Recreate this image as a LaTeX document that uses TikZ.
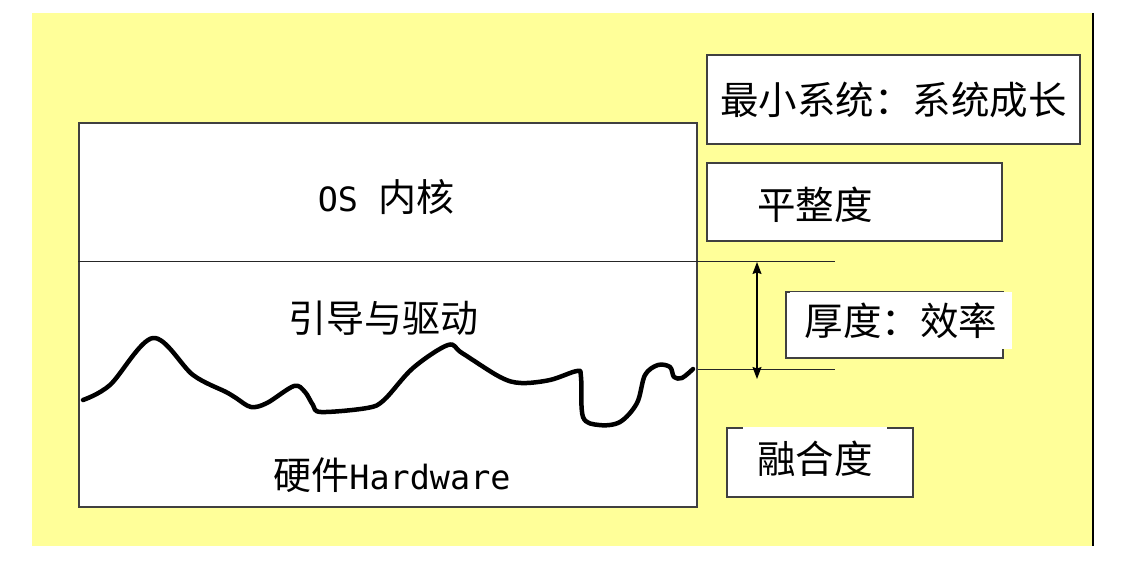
\documentclass[tikz,border=0pt]{standalone}
\usepackage{fontspec}
\usepackage{tikz}
\usetikzlibrary{arrows.meta,positioning}
\setmainfont{Noto Sans CJK SC}
\newfontfamily\monofnt[Scale=0.88]{DejaVu Sans Mono}
\definecolor{slideyel}{HTML}{FFFF99}
\definecolor{frmgrey}{HTML}{404040}
\newcommand{\layerfont}{\fontsize{38}{44}\selectfont}
\newcommand{\tagfont}{\fontsize{38.5}{44}\selectfont}
\tikzset{
  layerbox/.style  = {draw=frmgrey, line width=2pt, fill=white, inner sep=0pt},
  tagbox/.style    = {draw=frmgrey, line width=1.5pt, fill=white, inner sep=0pt,
                      font=\tagfont},
  tagpatch/.style  = {fill=white, inner sep=0pt, font=\tagfont},
  layertxt/.style  = {inner sep=0pt, font=\layerfont},
  tagtxt/.style    = {inner sep=0pt, font=\tagfont},
  %
  rule/.style      = {draw=black!85, line width=1pt},
  gauge/.style     = {{Stealth[length=12pt,width=9pt,inset=1.5pt]}-%
                      {Stealth[length=12pt,width=9pt,inset=1.5pt]},
                      line width=1.2pt},
  wave/.style      = {line width=4.5pt, line cap=round, line join=round},
}

\begin{document}
\begin{tikzpicture}[x=1pt, y=-1pt]

  \useasboundingbox (0,0) rectangle (1129,569);
  \fill[slideyel] (32,13) rectangle (1093,546);
  \draw[line width=2pt] (1093,13) -- (1093,546);

  % the layered system
  \node[layerbox, minimum width=618pt, minimum height=384pt] (stack) at (388,315) {};
  \node[layertxt] (kernel) at (386,197) {{\monofnt OS }内核};
  \node[layertxt] (boot)   at (383,318) {引导与驱动};
  \node[layertxt] (hw)     at (392,475) {硬件{\monofnt Hardware}};

  % boundary between kernel and drivers, and the rough hardware edge
  \coordinate (rulend) at (835,262);
  \coordinate (lowend) at (835,369);
  \draw[rule] (stack.west |- rulend) -- (rulend);
  \draw[rule] (stack.east |- lowend) -- (lowend);

  \draw[wave] plot[smooth, tension=0.55] coordinates {
    (83,400) (110,385) (153,338) (193,375) (226,392) (236,398) (251,407)
    (267,403) (294,386) (305,392) (313,405) (321,412) (367,408) (384,400)
    (413,368) (448,345) (462,353) (500,377) (521,383) (550,380) (577,371)
    (581,377) (583,417) (599,425) (620,422) (637,403) (645,375) (658,365)
    (670,367) (674,377) (682,378) (693,369)};

  % thickness
  \coordinate (gtop) at (757,262);
  \coordinate (gbot) at (757,379);
  \draw[gauge] (gtop) -- (gbot);

  % notes on the right
  \node[tagbox, minimum width=373pt, minimum height=89pt] (minsys) at (893.5,99.5)
    {最小系统：系统成长};
  \node[tagbox, minimum width=295pt, minimum height=78pt] (flat) at (854.5,202) {};
  \node[tagtxt] (flattxt) at (815,205) {平整度};

  \node[tagbox, minimum width=217pt, minimum height=66pt] (eff) at (894.5,325) {};
  \node[tagpatch, minimum width=222pt, minimum height=57pt] (efftxt) at (901,320.5)
    {厚度：效率};

  \node[tagbox, minimum width=186pt, minimum height=69pt] (fuse) at (820,462.5) {};
  \node[tagpatch, minimum width=144pt, minimum height=65pt] (fusetxt) at (815,459)
    {融合度};

\end{tikzpicture}
\end{document}
